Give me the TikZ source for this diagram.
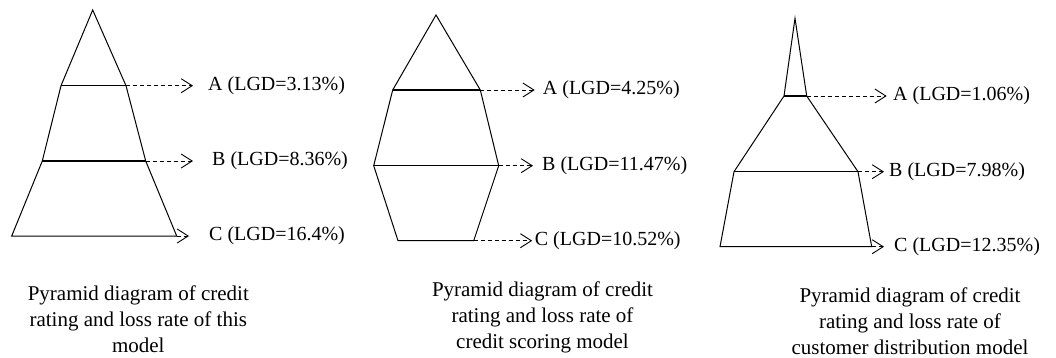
\documentclass[tikz,border=0pt]{standalone}
\usepackage{fontspec}
\setmainfont{Liberation Serif}
\usetikzlibrary{arrows.meta,positioning}
\begin{document}
\begin{tikzpicture}[x=1pt,y=-1pt,->,>={Straight Barb[length=11pt,width=14pt]},
  outline/.style={-,line width=1pt},
  lvl/.style={-,line width=1.5pt},
  dlink/.style={dash pattern=on 4pt off 3pt,line width=0.9pt},
  lbl/.style={anchor=west,inner sep=0pt,font=\fontsize{20}{24}\selectfont},
  captext/.style={anchor=north,inner sep=0pt,align=center,font=\fontsize{21}{26}\selectfont}]
\useasboundingbox (0,0) rectangle (1056,357);
% this model
\coordinate (t1) at (92.7,10);
\coordinate (a1l) at (61,85.7);   \coordinate (a1r) at (126,85.7);
\coordinate (b1l) at (42.3,161);  \coordinate (b1r) at (145.7,161);
\coordinate (c1l) at (11.7,236);  \coordinate (c1r) at (176.7,236);
\draw[outline] (t1)--(a1r)--(b1r)--(c1r)--(c1l)--(b1l)--(a1l)--cycle;
\draw[lvl] (a1l)--(a1r);
\draw[lvl] (b1l)--(b1r);
\node[lbl] (la1) at (208,85.7) {A (LGD=3.13\%)};
\node[lbl] (lb1) at (212,161) {B (LGD=8.36\%)};
\node[lbl] (lc1) at (209,236) {C (LGD=16.4\%)};
\draw[dlink,shorten >=15pt] (a1r)--(la1);
\draw[dlink,shorten >=19pt] (b1r)--(lb1);
\draw[dlink,shorten >=20pt] (c1r)--(lc1);
\node[captext] (cap1) at (138.3,285.5) {Pyramid diagram of credit\\rating and loss rate of this\\model};
% credit scoring model
\coordinate (t2) at (436,15);
\coordinate (a2l) at (392.7,90);  \coordinate (a2r) at (480.3,90);
\coordinate (b2l) at (373.7,165.7); \coordinate (b2r) at (498.7,165.7);
\coordinate (c2l) at (398,240.7); \coordinate (c2r) at (473.7,240.7);
\draw[outline] (t2)--(a2r)--(b2r)--(c2r)--(c2l)--(b2l)--(a2l)--cycle;
\draw[lvl] (a2l)--(a2r);
\draw[lvl] (b2l)--(b2r);
\node[lbl] (la2) at (542.7,90) {A (LGD=4.25\%)};
\node[lbl] (lb2) at (542,165.7) {B (LGD=11.47\%)};
\node[lbl] (lc2) at (534.7,240.7) {C (LGD=10.52\%)};
\draw[dlink,shorten >=8pt] (a2r)--(la2);
\draw[dlink,shorten >=9pt] (b2r)--(lb2);
\draw[dlink,shorten >=2.5pt] (c2r)--(lc2);
\node[captext] (cap2) at (542.5,281.5) {Pyramid diagram of credit\\rating and loss rate of\\credit scoring model};
% customer distribution model
\coordinate (t3) at (795,18.3);
\coordinate (a3l) at (784,96);    \coordinate (a3r) at (806.7,96);
\coordinate (b3l) at (734,171.7); \coordinate (b3r) at (858,171.7);
\coordinate (c3l) at (720,246.7); \coordinate (c3r) at (871.7,246.7);
\draw[outline] (t3)--(a3r)--(b3r)--(c3r)--(c3l)--(b3l)--(a3l)--cycle;
\draw[lvl] (a3l)--(a3r);
\draw[lvl] (b3l)--(b3r);
\node[lbl] (la3) at (893,96) {A (LGD=1.06\%)};
\node[lbl] (lb3) at (889,171.7) {B (LGD=7.98\%)};
\node[lbl] (lc3) at (894,246.7) {C (LGD=12.35\%)};
\draw[dlink,shorten >=6.3pt] (a3r)--(la3);
\draw[dlink,shorten >=5pt] (b3r)--(lb3);
\draw[dlink,shorten >=10pt] (c3r)--(lc3);
\node[captext] (cap3) at (910,287.5) {Pyramid diagram of credit\\rating and loss rate of\\customer distribution model};
\end{tikzpicture}
\end{document}
